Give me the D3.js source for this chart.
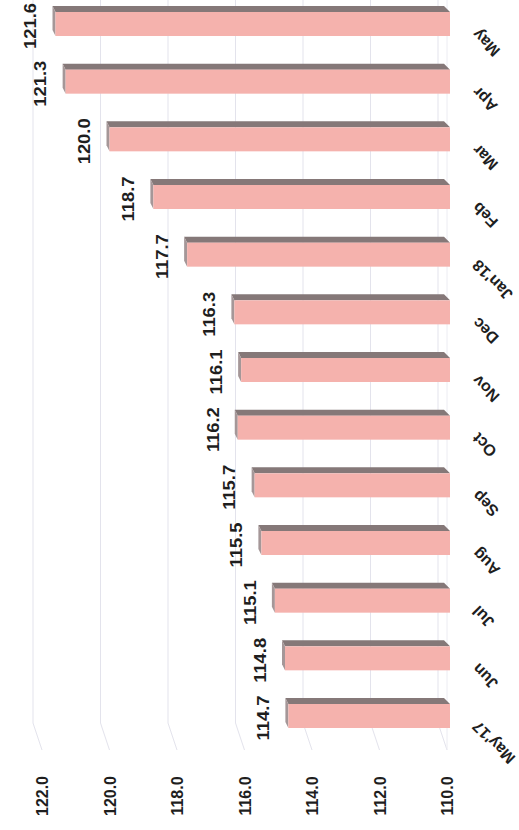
<!DOCTYPE html>
<html>
<head>
<meta charset="utf-8">
<script src="https://cdn.jsdelivr.net/npm/d3@7"></script>
<style>
  body { margin: 0; background: #fff; }
  text { font-family: "Liberation Sans", Arial, sans-serif; fill: #1e1e1e; }
</style>
</head>
<body>
<script>
// chart data (scanned chart, rotated 90deg counter-clockwise)
const months = ["May'17", "Jun", "Jul", "Aug", "Sep", "Oct", "Nov", "Dec", "Jan'18", "Feb", "Mar", "Apr", "May"];
const values = [114.7, 114.8, 115.1, 115.5, 115.7, 116.2, 116.1, 116.3, 117.7, 118.7, 120.0, 121.3, 121.6];
const ticks = [110, 112, 114, 116, 118, 120, 122];

const width = 519, height = 830;

const svg = d3.select("body")
  .append("svg")
  .attr("width", width)
  .attr("height", height);

const x = d3.scaleLinear().domain([110, 122]).range([447, 42]);
const y = d3.scalePoint().domain(months.slice().reverse()).range([24, 716]);

const data = months.map((m, i) => ({ month: m, value: values[i] }));
const barH = 24;

// back wall gridlines + floor diagonals
svg.append("g")
  .selectAll("path")
  .data(ticks)
  .enter()
  .append("path")
  .attr("d", d => `M${x(d) - 9},0V723L${x(d)},750`)
  .attr("fill", "none")
  .attr("stroke", "#e3e3ec")
  .attr("stroke-width", 1);

svg.append("line")
  .attr("x1", x(110)).attr("x2", x(110))
  .attr("y1", 0).attr("y2", 750)
  .attr("stroke", "#ececf2");

// bars
const bars = svg.append("g")
  .selectAll("g")
  .data(data)
  .enter()
  .append("g");

const right = x(110) + 3;

bars.append("path")
  .attr("d", d => {
    const l = x(d.value), t = y(d.month) - barH / 2;
    return `M${l},${t}L${l - 3},${t - 6}L${right - 6},${t - 6}L${right},${t}Z`;
  })
  .attr("fill", "#857878");

bars.append("path")
  .attr("d", d => {
    const l = x(d.value), t = y(d.month) - barH / 2;
    return `M${l},${t}L${l - 3},${t - 6}L${l - 3},${t + barH - 6}L${l},${t + barH}Z`;
  })
  .attr("fill", "#a59798");

bars.append("rect")
  .attr("x", d => x(d.value))
  .attr("y", d => y(d.month) - barH / 2)
  .attr("width", d => right - x(d.value))
  .attr("height", barH)
  .attr("fill", "#f5b2ad");

// value labels
svg.append("g")
  .selectAll("text")
  .data(data)
  .enter()
  .append("text")
  .attr("transform", d => `translate(${x(d.value) - 25},${y(d.month) + 2}) rotate(-90) scale(1.08,1)`)
  .attr("text-anchor", "middle")
  .attr("dominant-baseline", "central")
  .style("font-size", "17px")
  .style("font-weight", "bold")
  .text(d => d.value.toFixed(1));

// category labels
svg.append("g")
  .selectAll("text")
  .data(data)
  .enter()
  .append("text")
  .attr("transform", d => `translate(479,${y(d.month) + 4}) rotate(-135)`)
  .attr("text-anchor", "end")
  .style("font-size", "16px")
  .style("font-weight", "bold")
  .text(d => d.month);

// value axis
const axis = svg.append("g")
  .attr("transform", "translate(0,796)")
  .call(d3.axisBottom(x).tickValues(ticks).tickFormat(d3.format(".1f")).tickSize(0));

axis.select(".domain").remove();
axis.selectAll("text")
  .attr("y", 0)
  .attr("dy", null)
  .attr("transform", "rotate(-90)")
  .attr("text-anchor", "middle")
  .attr("dominant-baseline", "central")
  .style("font-size", "16px")
  .style("font-weight", "bold")
  .style("fill", "#1e1e1e");
</script>
</body>
</html>
